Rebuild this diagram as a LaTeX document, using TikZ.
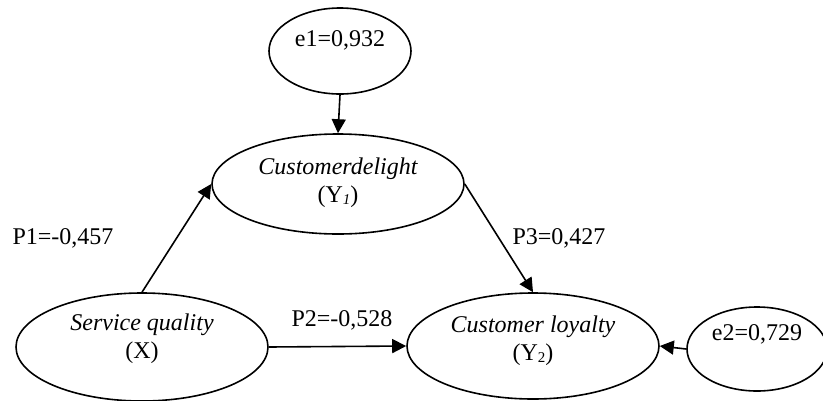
\documentclass[tikz,border=0pt]{standalone}
\usepackage{fontspec}
\setmainfont{Liberation Serif}
\usetikzlibrary{shapes.geometric,arrows.meta}
\begin{document}
\begin{tikzpicture}[x=1pt,y=-1pt,
  oval/.style={draw,ellipse,line width=1.6pt,inner sep=0pt},
  txt/.style={font=\fontsize{24}{28}\selectfont,align=center,inner sep=0pt},
  arr/.style={line width=1.6pt,-{Triangle[length=14pt,width=14pt]}}]
\useasboundingbox (0,0) rectangle (823,400);
\node[oval,minimum width=142pt,minimum height=86pt] (e1) at (340,51) {};
\node[oval,minimum width=252pt,minimum height=100pt] (cd) at (338,184) {};
\node[oval,minimum width=252pt,minimum height=108pt] (sq) at (142,347) {};
\node[oval,minimum width=252pt,minimum height=106pt] (cl) at (533,346) {};
\node[oval,minimum width=140pt,minimum height=84pt] (e2) at (757,349) {};
\node[txt] (te1) at (340,40) {e1=0,932};
\node[txt] (tcd) at (338,183) {\itshape Customerdelight\\(Y\raisebox{-2pt}{\fontsize{15}{15}\selectfont\itshape 1})};
\node[txt] (tsq) at (142,339) {\itshape Service quality\\(X)};
\node[txt] (tcl) at (533,341) {\itshape Customer loyalty\\(Y\raisebox{-2pt}{\fontsize{15}{15}\selectfont 2})};
\node[txt] (te2) at (757,334) {e2=0,729};
\node[txt] (p1) at (63,238) {P1=-0,457};
\node[txt] (p3) at (559,238) {P3=0,427};
\node[txt] (p2) at (342,320) {P2=-0,528};
\draw[arr] (e1.south) -- (cd.north);
\draw[arr] (sq.north) -- (cd.west);
\draw[arr] (cd.east) -- (cl.north);
\draw[arr] (sq.east) -- (cl.west);
\draw[arr] (e2.west) -- (cl.east);
\end{tikzpicture}
\end{document}
